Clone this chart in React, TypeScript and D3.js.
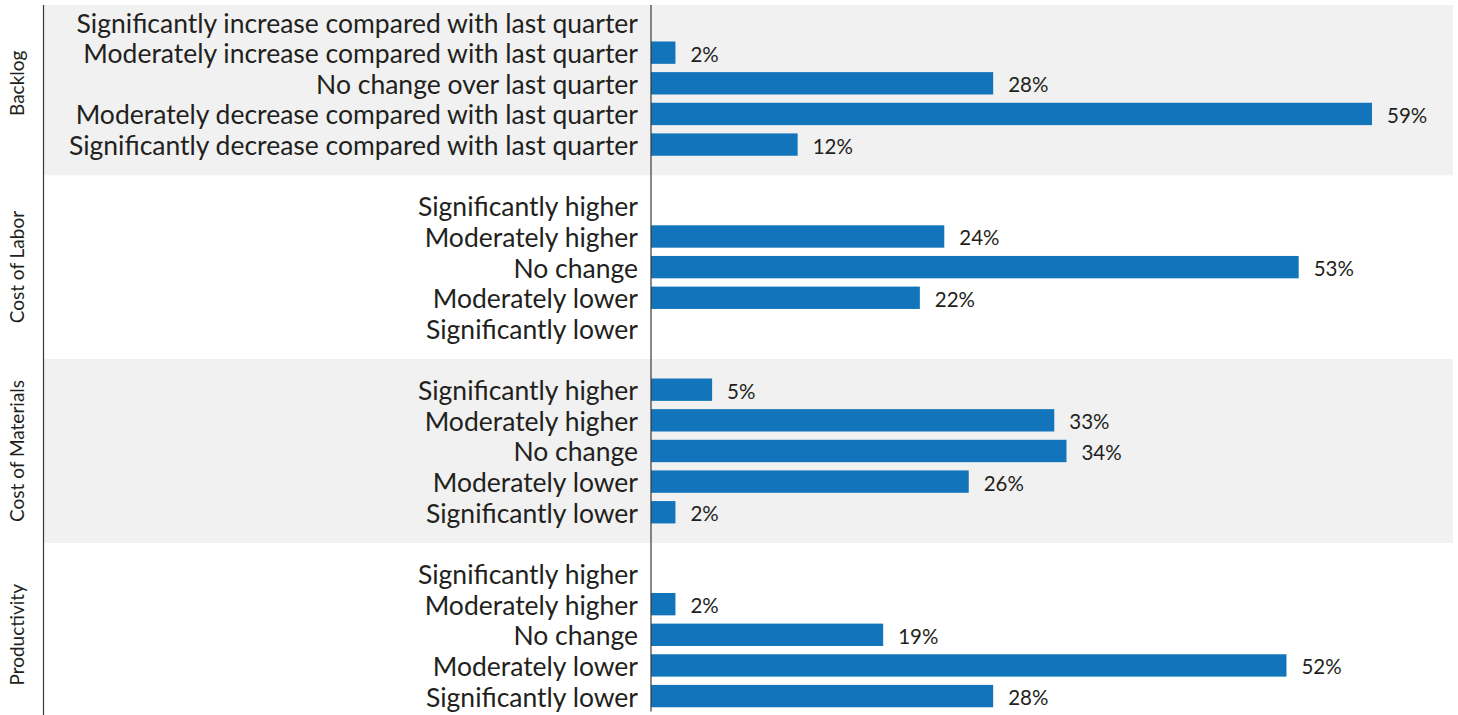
import * as d3 from 'd3'

const groups = ['Backlog', 'Cost of Labor', 'Cost of Materials', 'Productivity']

const backlogLabels = [
  'Significantly increase compared with last quarter',
  'Moderately increase compared with last quarter',
  'No change over last quarter',
  'Moderately decrease compared with last quarter',
  'Significantly decrease compared with last quarter',
]
const costLabels = [
  'Significantly higher',
  'Moderately higher',
  'No change',
  'Moderately lower',
  'Significantly lower',
]

const backlogValues = [0, 2, 28, 59, 12]
const laborValues = [0, 24, 53, 22, 0]
const materialsValues = [5, 33, 34, 26, 2]
const productivityValues = [0, 2, 19, 52, 28]

const groupLabels = [backlogLabels, costLabels, costLabels, costLabels]
const groupValues = [backlogValues, laborValues, materialsValues, productivityValues]

const COLORS = {
  bar: '#1275bb',
  band: '#f0f1f0',
  text: '#231f20',
  line: '#3a3a3a',
}

const FONT = 'Lato, "Open Sans", sans-serif'

interface Row {
  key: string
  group: number
  label: string
  value: number
}

const rows: Row[] = groups.flatMap((_, gi) =>
  groupLabels[gi].map((label, i) => ({ key: `${gi}-${i}`, group: gi, label, value: groupValues[gi][i] }))
)

// one empty row between groups
const rowKeys: string[] = []
groups.forEach((_, gi) => {
  groupLabels[gi].forEach((_, i) => rowKeys.push(`${gi}-${i}`))
  if (gi < groups.length - 1) rowKeys.push(`gap-${gi}`)
})

export default function App() {
  const width = 1458
  const height = 715
  const axisX = 651
  const leftX = 43
  const rightX = 1453
  const top = 6.7
  const bottom = 711.4

  const y = d3.scaleBand<string>().domain(rowKeys).range([top, bottom]).paddingInner(0.27).paddingOuter(0.135)
  const x = d3.scaleLinear().domain([0, d3.max(rows, d => d.value)!]).range([axisX, 1372])
  const center = (k: string) => y(k)! + y.bandwidth() / 2

  // group boundaries sit in the middle of the spacer rows
  const bounds = groups.map((_, gi) => {
    const y0 = gi === 0 ? top - 1.7 : center(`gap-${gi - 1}`)
    const y1 = gi === groups.length - 1 ? height : center(`gap-${gi}`)
    const first = center(`${gi}-0`)
    const last = center(`${gi}-${groupLabels[gi].length - 1}`)
    return { y0, y1, mid: (first + last) / 2 }
  })

  return (
    <div style={{ position: 'absolute', left: 0, top: 0 }}>
      <svg width={width} height={height} style={{ display: 'block', background: '#fff' }}>
        {bounds.map((b, gi) =>
          gi % 2 === 0 ? (
            <rect key={gi} x={leftX} y={b.y0} width={rightX - leftX} height={b.y1 - b.y0} fill={COLORS.band} />
          ) : null
        )}

        {rows.map(r => (
          <text
            key={`l-${r.key}`}
            x={axisX - 13}
            y={center(r.key) + 0.5}
            textAnchor="end"
            dominantBaseline="central"
            fontFamily={FONT}
            fontSize={26.5}
            fill={COLORS.text}
          >
            {r.label}
          </text>
        ))}

        {rows.filter(r => r.value > 0).map(r => (
          <g key={`b-${r.key}`}>
            <rect x={x(0)} y={y(r.key)} width={x(r.value) - x(0)} height={y.bandwidth()} fill={COLORS.bar} />
            <text
              x={x(r.value) + 15}
              y={center(r.key) + 1}
              dominantBaseline="central"
              fontFamily={FONT}
              fontSize={20.5}
              fill={COLORS.text}
            >
              {`${r.value}%`}
            </text>
          </g>
        ))}

        {bounds.map((b, gi) => (
          <text
            key={`g-${gi}`}
            transform={`translate(16,${b.mid}) rotate(-90)`}
            textAnchor="middle"
            dominantBaseline="central"
            fontFamily={FONT}
            fontSize={19}
            fill={COLORS.text}
          >
            {groups[gi]}
          </text>
        ))}

        <line x1={leftX + 0.5} x2={leftX + 0.5} y1={top - 1.7} y2={height} stroke={COLORS.line} strokeWidth={1.2} />
        <line x1={axisX} x2={axisX} y1={top - 1.7} y2={bottom} stroke={COLORS.line} strokeWidth={1.2} />
      </svg>
    </div>
  )
}
